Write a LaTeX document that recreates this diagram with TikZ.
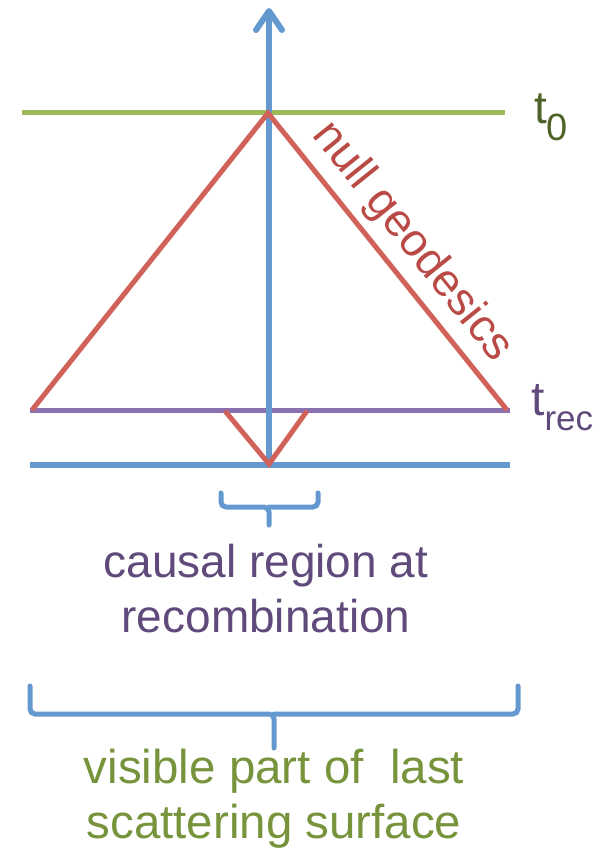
\documentclass[tikz,border=0pt]{standalone}
\usepackage{fontspec}
\setmainfont{Liberation Sans}
\usetikzlibrary{arrows.meta,calc}
\definecolor{axisblue}{HTML}{6499CF}
\definecolor{conered}{HTML}{D0625A}
\definecolor{redtext}{HTML}{B94A45}
\definecolor{nowgreen}{HTML}{9BBB59}
\definecolor{nowtext}{HTML}{4F6228}
\definecolor{recpurple}{HTML}{8A70B0}
\definecolor{purpletext}{HTML}{604A7B}
\definecolor{greentext}{HTML}{77933C}
\begin{document}
\begin{tikzpicture}[x=1pt,y=-1pt,
  axisline/.style={draw=axisblue,line width=6pt},
  cone/.style={draw=conered,line width=5pt,line join=miter},
  brace/.style={draw=axisblue,line width=5pt,rounded corners=5pt,line cap=round},
  bigtext/.style={font=\fontsize{46}{55}\selectfont,align=center,inner sep=0pt}]
\useasboundingbox (0,0) rectangle (609,849);
% coordinates
\coordinate (axbot) at (269,465);
\coordinate (axtop) at (269,8);
\coordinate (apex) at (268,113);
\coordinate (cl) at (32,410);
\coordinate (cr) at (507,410);
\coordinate (vl) at (225,411);
\coordinate (vb) at (269,464);
\coordinate (vr) at (307,411);
% horizontal lines
\draw[draw=nowgreen,line width=5pt] (22,112) coordinate (gl) -- (505,112) coordinate (gr);
\draw[draw=recpurple,line width=5pt] (30,410) coordinate (pl) -- (510,410) coordinate (pr);
\draw[axisline] (30,465) coordinate (bl) -- (510,465) coordinate (br);
% axis
\draw[axisline,-{Straight Barb[length=19pt,width=26pt,line cap=round,line join=round]}] (axbot) -- (axtop);
% cones
\draw[cone] (cl) -- (apex) -- (cr);
\draw[cone] (vl) -- (vb) -- (vr);
% braces
\draw[brace] (221,493) -- (221,507) -- (269,507) -- (269,525);
\draw[brace] (269,507) -- (318,507) -- (318,493);
\draw[brace] (30,686) -- (30,714) -- (274,714) -- (274,748);
\draw[brace] (274,714) -- (518,714) -- (518,686);
% labels
\node[bigtext,text=redtext,rotate=-51.2] (ng) at (412,242) {null geodesics};
\node[anchor=base west,inner sep=0pt,text=nowtext,font=\fontsize{46}{46}\selectfont] (t0) at (534,123)
  {t\raisebox{-17pt}{\fontsize{38}{38}\selectfont 0}};
\node[anchor=base west,inner sep=0pt,text=purpletext,font=\fontsize{48}{48}\selectfont] (trec) at (531,415)
  {t\raisebox{-15pt}{\fontsize{35}{35}\selectfont rec}};
\node[bigtext,text=purpletext,anchor=base] (causal) at (266,632) {causal region at\\recombination};
\node[bigtext,text=greentext,anchor=base,font=\fontsize{47.5}{55}\selectfont] (visible) at (274,838) {visible part of\ \ last\\scattering surface};
\end{tikzpicture}
\end{document}
